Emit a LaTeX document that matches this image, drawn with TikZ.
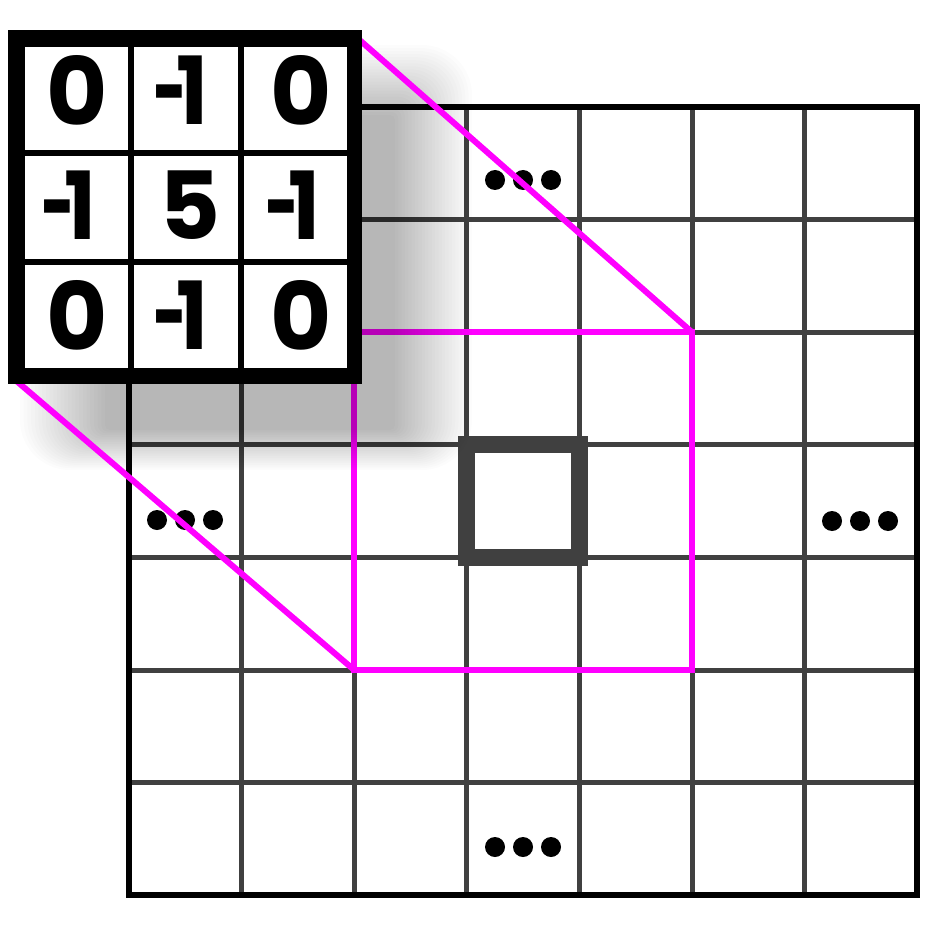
\documentclass[tikz,border=0pt]{standalone}
\usepackage{fontspec}
\setmainfont{Poppins}
\definecolor{gridgray}{HTML}{404040}
\definecolor{mag}{HTML}{FF00FF}
\newcommand{\negone}{\scalebox{0.62}[1]{-}\kern-0.11em\scalebox{0.9}[1]{1}}
\tikzset{
  gridline/.style={draw=gridgray, line width=5pt},
  gridborder/.style={draw=black, line width=6pt, line join=miter},
  centersq/.style={draw=gridgray, line width=17pt, line join=miter},
  magline/.style={draw=mag, line width=6pt, line join=miter},
  kline/.style={draw=black, line width=6pt},
  digit/.style={inner sep=0pt, font=\fontsize{94}{94}\selectfont\bfseries},
  dot/.style={circle, fill=black, inner sep=0pt, minimum size=20pt},
}
\begin{document}
\begin{tikzpicture}[x=1pt,y=-1pt]
\useasboundingbox (0,0) rectangle (933,933);
\fill[white] (0,0) rectangle (933,933);
% grid
\foreach \i in {1,...,6}{
  \draw[gridline] ({129+112.6*\i},107) -- ({129+112.6*\i},895.2);
  \draw[gridline] (129,{107+112.6*\i}) -- (917.2,{107+112.6*\i});
}
\draw[gridborder] (129,107) rectangle (917.2,895.2);
% centre cell
\draw[centersq] (466.8,444.8) rectangle (579.4,557.4);
% magenta receptive field
\coordinate (mtl) at (354.2,332.2);
\coordinate (mtr) at (692,332.2);
\coordinate (mbl) at (354.2,670);
\coordinate (mbr) at (692,670);
\draw[magline] (mtl) -- (mtr) -- (mbr) -- (mbl) -- cycle;
% dots
\foreach \n/\cx/\cy in {t/523/180, l/185/520, r/860/521, b/523/847}{
  \node[dot] (d\n1) at ({\cx-28},\cy) {};
  \node[dot] (d\n2) at (\cx,\cy) {};
  \node[dot] (d\n3) at ({\cx+28},\cy) {};
}
% shadow
\foreach \k in {0,...,23}{
  \pgfmathsetmacro{\t}{\k/23}
  \fill[black, opacity=0.0128, rounded corners={(1-\t)*45+5}]
    ({20+85*\t},{45+70*\t}) rectangle ({472-77*\t},{470-40*\t});
}
% connectors from kernel to receptive field
\coordinate (ktr) at (355,36);
\coordinate (kbl) at (13,378);
\draw[magline] (ktr) -- (mtr);
\draw[magline] (kbl) -- (mbl);
% kernel
\fill[black] (8,30) rectangle (362,384);
\fill[white] (25,47) rectangle (347,368);
\draw[kline] (131.3,47) -- (131.3,368);
\draw[kline] (240.7,47) -- (240.7,368);
\draw[kline] (25,153) -- (347,153);
\draw[kline] (25,262) -- (347,262);
\node[digit] (k11) at (77,90) {0};
\node[digit] (k12) at (181,90) {\negone};
\node[digit] (k13) at (301,90) {0};
\node[digit] (k21) at (69,205) {\negone};
\node[digit] (k22) at (190,205) {5};
\node[digit] (k23) at (293,205) {\negone};
\node[digit] (k31) at (77,315) {0};
\node[digit] (k32) at (181,315) {\negone};
\node[digit] (k33) at (301,315) {0};
\end{tikzpicture}
\end{document}
